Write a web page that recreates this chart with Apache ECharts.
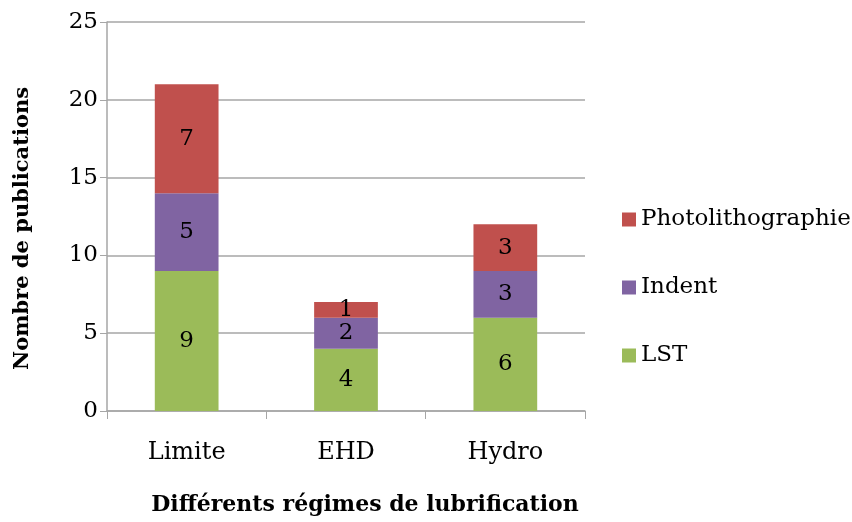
<!DOCTYPE html>
<html>
<head>
<meta charset="utf-8">
<script src="https://cdn.jsdelivr.net/npm/echarts@6/dist/echarts.min.js"></script>
<style>
  html, body { margin: 0; padding: 0; background: #fff; }
  #chart { width: 852px; height: 522px; }
</style>
</head>
<body>
<div id="chart"></div>
<script>
// Publications per lubrication regime, stacked by technique
const categories = ['Limite', 'EHD', 'Hydro'];
const lst = [9, 4, 6];
const indent = [5, 2, 3];
const photolitho = [7, 1, 3];
const yTicks = [0, 5, 10, 15, 20, 25];

const FONT = '"DejaVu Serif", "Liberation Serif", serif';

const labelStyle = {
  show: true,
  position: 'inside',
  color: '#000',
  fontFamily: FONT,
  fontSize: 23
};

function bar(name, data, color) {
  return {
    name: name,
    type: 'bar',
    stack: 'total',
    data: data,
    barWidth: '40%',
    itemStyle: { color: color },
    label: labelStyle
  };
}

const chart = echarts.init(document.getElementById('chart'));
chart.setOption({
  animation: false,
  grid: { left: 107, right: 267, top: 22, bottom: 111 },
  legend: {
    orient: 'vertical',
    left: 617,
    top: 203,
    itemWidth: 14,
    itemHeight: 14,
    itemGap: 45,
    icon: 'rect',
    data: ['Photolithographie', 'Indent', 'LST'],
    textStyle: { fontFamily: FONT, fontSize: 23, color: '#000' }
  },
  xAxis: {
    type: 'category',
    data: categories,
    name: 'Différents régimes de lubrification',
    nameLocation: 'middle',
    nameGap: 83,
    nameTextStyle: {
      fontFamily: FONT, fontSize: 22, fontWeight: 'bold', color: '#000',
      padding: [0, 0, 0, 38]
    },
    axisLine: { lineStyle: { color: '#a6a6a6', width: 1.5 } },
    axisTick: { show: true, length: 8, lineStyle: { color: '#a6a6a6' } },
    axisLabel: { fontFamily: FONT, fontSize: 24, color: '#000', margin: 30 }
  },
  yAxis: {
    type: 'value',
    min: yTicks[0],
    max: yTicks[yTicks.length - 1],
    interval: 5,
    name: 'Nombre de publications',
    nameLocation: 'middle',
    nameGap: 74,
    nameTextStyle: {
      fontFamily: FONT, fontSize: 21, fontWeight: 'bold', color: '#000',
      padding: [0, 24, 0, 0]
    },
    axisLine: { show: true, lineStyle: { color: '#a6a6a6', width: 1.5 } },
    axisTick: { show: true, length: 7, lineStyle: { color: '#a6a6a6' } },
    axisLabel: { fontFamily: FONT, fontSize: 23, color: '#000', margin: 9 },
    splitLine: { lineStyle: { color: '#a6a6a6', width: 1.5 } }
  },
  series: [
    bar('LST', lst, '#9BBB59'),
    bar('Indent', indent, '#8064A2'),
    bar('Photolithographie', photolitho, '#C0504D')
  ]
});
</script>
</body>
</html>
